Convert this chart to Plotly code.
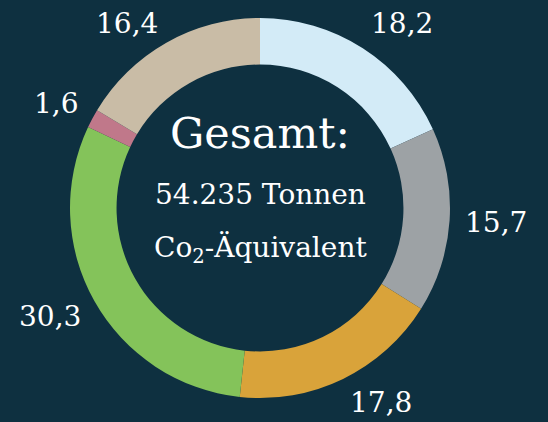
import math
import plotly.graph_objects as go

values = [18.2, 15.7, 17.8, 30.3, 1.6, 16.4]
labels = ["18,2", "15,7", "17,8", "30,3", "1,6", "16,4"]
colors = ["#d3ebf7", "#9da2a5", "#d9a33a", "#84c35a", "#c0788a", "#c9bca6"]
center_title = "Gesamt:"
center_line1 = "54.235 Tonnen"
center_line2 = "Co<sub>2</sub>-Äquivalent"

W, H = 548, 422
BG = "#0e3040"
cx, cy, R = 260, 208, 190
FONT = "DejaVu Serif"

fig = go.Figure()
fig.add_trace(go.Pie(
    values=values,
    marker=dict(colors=colors, line=dict(width=0)),
    hole=0.755,
    sort=False,
    direction="clockwise",
    rotation=0,
    textinfo="none",
    hoverinfo="skip",
    showlegend=False,
    domain=dict(x=[(cx - R) / W, (cx + R) / W], y=[1 - (cy + R) / H, 1 - (cy - R) / H]),
))

annotations = []
total = sum(values)
cum = 0.0
rx, ry = 204, 222
for v, lab in zip(values, labels):
    mid = (cum + v / 2) / total
    cum += v
    th = 2 * math.pi * mid
    s, c = math.sin(th), math.cos(th)
    x = cx + rx * s
    y = cy - ry * c
    y = min(max(y, 23), H - 20)  # keep labels inside the chart
    xa = "left" if s > 0.15 else ("right" if s < -0.15 else "center")
    annotations.append(dict(
        x=x, y=y, xref="x", yref="y", text=lab, showarrow=False,
        xanchor=xa, yanchor="middle", borderpad=0,
        font=dict(family=FONT, size=28, color="white"),
    ))

annotations += [
    dict(x=cx, y=133, xref="x", yref="y", text=center_title, showarrow=False,
         xanchor="center", yanchor="middle",
         font=dict(family=FONT, size=43, color="white")),
    dict(x=cx, y=194, xref="x", yref="y", text=center_line1, showarrow=False,
         xanchor="center", yanchor="middle",
         font=dict(family=FONT, size=28, color="white")),
    dict(x=cx, y=249, xref="x", yref="y", text=center_line2, showarrow=False,
         xanchor="center", yanchor="middle",
         font=dict(family=FONT, size=28, color="white")),
]

fig.update_layout(
    width=W, height=H,
    margin=dict(l=0, r=0, t=0, b=0),
    paper_bgcolor=BG, plot_bgcolor=BG,
    xaxis=dict(range=[0, W], visible=False, fixedrange=True),
    yaxis=dict(range=[H, 0], visible=False, fixedrange=True),
    annotations=annotations,
)
fig.write_html("out.html")
